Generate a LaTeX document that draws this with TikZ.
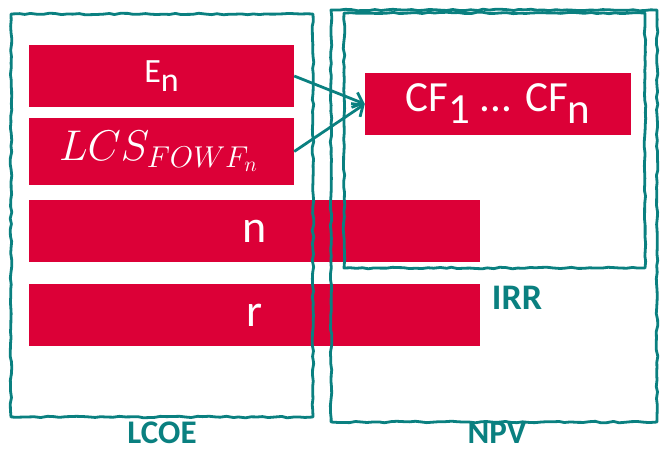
\RequirePackage{fix-cm}
\documentclass[tikz,border=0pt]{standalone}
\usepackage{fontspec}
\setmainfont{Carlito}
\usetikzlibrary{arrows.meta,decorations.pathmorphing}
\definecolor{tealc}{RGB}{10,128,128}
\definecolor{redc}{RGB}{220,0,55}
\newcommand{\lowsub}[1]{\raisebox{-0.28em}{#1}}
\tikzset{
  bar/.style={fill=redc, draw=none, text=white, inner sep=0pt},
  wobbly/.style={draw=tealc, line width=2.8pt, line join=round,
    decorate, decoration={random steps, segment length=6pt, amplitude=0.8pt}},
  lbl/.style={text=tealc, font=\bfseries\fontsize{33}{38}\selectfont, inner sep=0pt},
  conn/.style={draw=tealc, line width=2.8pt, -{Straight Barb[length=9pt,width=16pt,line width=2.8pt]}}
}
\begin{document}
\begin{tikzpicture}[x=1pt,y=-1pt]
\pgfmathsetseed{7}
\useasboundingbox (0,0) rectangle (660,451);
% red bars
\node[bar, minimum width=265pt, minimum height=62pt, font=\fontsize{34}{40}\selectfont] (En) at (161.5,76) {E\lowsub{n}};
\node[bar, minimum width=265pt, minimum height=67pt, font=\fontsize{43}{48}\selectfont] (LCS) at (161.5,151.5) {\hspace*{-6pt}$LCS_{FOWF_n}$};
\node[bar, minimum width=451pt, minimum height=62pt, font=\fontsize{46}{52}\selectfont] (n) at (254.5,231) {n};
\node[bar, minimum width=451pt, minimum height=62pt, font=\fontsize{46}{52}\selectfont] (r) at (254.5,315) {r};
\node[bar, minimum width=266pt, minimum height=62pt, font=\fontsize{43}{50}\selectfont] (CF) at (498,104) {CF\lowsub{1} ... CF\lowsub{n}};
% hand-drawn frames
\path[wobbly] (11,14) rectangle (313,417);
\path[wobbly] (331,10) rectangle (657,422);
\path[wobbly] (344,13) rectangle (645,268);
% connectors
\draw[conn] (En.east) -- (CF.west);
\draw[conn] (LCS.east) -- (CF.west);
% labels
\node[lbl] (lcoe) at (162,433) {LCOE};
\node[lbl] (npv) at (497,433) {NPV};
\node[lbl, font=\bfseries\fontsize{36}{42}\selectfont] (irr) at (517,298) {IRR};
\end{tikzpicture}
\end{document}
